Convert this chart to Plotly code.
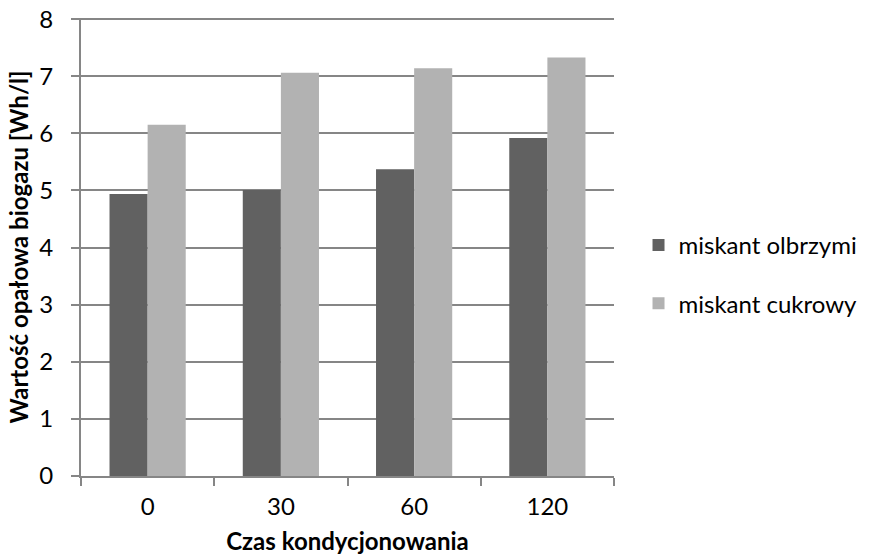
import plotly.graph_objects as go

categories = ["0", "30", "60", "120"]
olbrzymi = [4.94, 5.01, 5.37, 5.92]
cukrowy = [6.15, 7.06, 7.14, 7.33]
series_names = ["miskant olbrzymi", "miskant cukrowy"]
y_ticks = [0, 1, 2, 3, 4, 5, 6, 7, 8]

FONT = "Lato"
GRID = "#868686"
FS = 24

fig = go.Figure()
fig.add_trace(go.Bar(x=categories, y=olbrzymi, name=series_names[0], legendgroup="a",
                     marker=dict(color="#616161", line=dict(width=0))))
fig.add_trace(go.Bar(x=categories, y=cukrowy, name=series_names[1], legendgroup="b",
                     marker=dict(color="#b2b2b2", line=dict(width=0))))

fig.update_layout(
    width=874, height=558,
    paper_bgcolor="white", plot_bgcolor="white",
    margin=dict(l=81, r=252, t=18, b=82),
    barmode="group", bargap=0.428, bargroupgap=0,
    font=dict(family=FONT, size=FS, color="#000000"),
    legend=dict(x=1.046, y=0.44, xanchor="left", yanchor="middle",
                font=dict(family=FONT, size=FS), tracegroupgap=24,
                traceorder="grouped", bgcolor="rgba(0,0,0,0)"),
    showlegend=True,
)
fig.update_xaxes(
    type="category", showline=True, linecolor=GRID, linewidth=2,
    ticks="outside", ticklen=8, tickcolor=GRID, tickwidth=1.5,
    tickson="boundaries", showgrid=False, automargin=False,
    ticklabelstandoff=8,
    tickfont=dict(family=FONT, size=FS),
    title=dict(text="<b>Czas kondycjonowania</b>", font=dict(family=FONT, size=FS), standoff=14),
)
fig.update_yaxes(
    range=[0, 8.02], tickvals=y_ticks, showline=True, linecolor=GRID, linewidth=2,
    showgrid=True, gridcolor=GRID, gridwidth=2,
    ticks="outside", ticklen=8, tickcolor=GRID, tickwidth=1.5,
    ticklabelstandoff=13, automargin=False, ticklabeloverflow="allow",
    tickfont=dict(family=FONT, size=FS), zeroline=False,
    title=dict(text="<b>Wartość opałowa biogazu [Wh/l]</b>", font=dict(family=FONT, size=FS), standoff=4),
)

fig.write_html("out.html", config={"displayModeBar": False},
               post_script="document.body.style.margin='0';")
